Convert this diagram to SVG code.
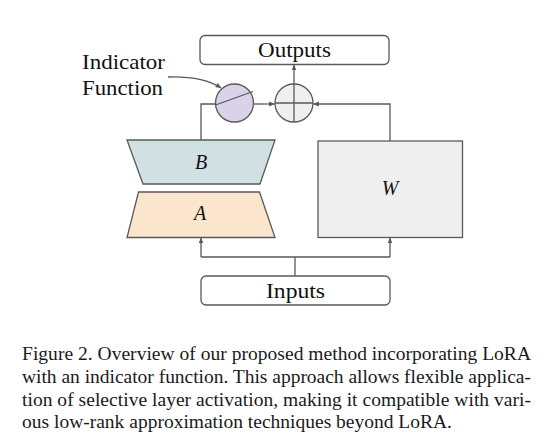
<svg xmlns="http://www.w3.org/2000/svg" width="545" height="444" viewBox="0 0 545 444">
<style>
.ln{stroke:#595959;stroke-width:1.3;fill:none}
.bx{stroke:#595959;stroke-width:1.3}
text{font-family:"Liberation Serif","Times New Roman",serif;fill:#111}
.lbl{font-size:21px}
.it{font-style:italic;font-size:20px}
.cap{font-size:19.5px;fill:#1a1a1a}
</style>
<defs>
<marker id="ah" viewBox="0 0 10 10" refX="9" refY="5" markerWidth="6" markerHeight="6" orient="auto" markerUnits="userSpaceOnUse">
<path d="M0,1 L10,5 L0,9 Z" fill="#595959"/>
</marker>
</defs>
<rect width="545" height="444" fill="#fff"/>
<g id="connectors">
<path class="ln" d="M295,276 V257"/>
<path class="ln" d="M201,257 H390"/>
<path class="ln" d="M201,257 V238" marker-end="url(#ah)"/>
<path class="ln" d="M390,257 V238" marker-end="url(#ah)"/>
<path class="ln" d="M201,140 V104 H215.5"/>
<path class="ln" d="M253.5,104 H274.5" marker-end="url(#ah)"/>
<path class="ln" d="M390,141 V104 H313.5" marker-end="url(#ah)"/>
<path class="ln" d="M294,84 V65" marker-end="url(#ah)"/>
<path class="ln" d="M168,77 Q203,76 221,88" marker-end="url(#ah)"/>
</g>
<g id="outputs">
<rect class="bx" x="200" y="35.5" width="189" height="29" rx="5" fill="#fff"/>
<text class="lbl" x="258" y="57" textLength="73" lengthAdjust="spacingAndGlyphs">Outputs</text>
</g>
<g id="inputs">
<rect class="bx" x="201" y="276" width="189" height="29" rx="5" fill="#fff"/>
<text class="lbl" x="266" y="298" textLength="59" lengthAdjust="spacingAndGlyphs">Inputs</text>
</g>
<g id="indicator-label">
<text class="lbl" x="82" y="69" textLength="83" lengthAdjust="spacingAndGlyphs">Indicator</text>
<text class="lbl" x="82" y="95" textLength="81" lengthAdjust="spacingAndGlyphs">Function</text>
</g>
<g id="indicator">
<circle class="bx" cx="234.5" cy="103" r="19" fill="#d9d2e9"/>
<path class="ln" d="M215.5,105 L253,91.5"/>
</g>
<g id="plus">
<circle class="bx" cx="294" cy="103" r="19" fill="#efefef"/>
<path class="ln" d="M294,84 V122 M275,103 H313"/>
</g>
<g id="B">
<path class="bx" d="M127,140 H275 L260,184 H143 Z" fill="#d0e0e3"/>
<text class="it" x="201" y="169" text-anchor="middle">B</text>
</g>
<g id="A">
<path class="bx" d="M138.5,192 H259.5 L275,237.5 H127 Z" fill="#fce5cd"/>
<text class="it" x="200" y="220" text-anchor="middle">A</text>
</g>
<g id="W">
<rect class="bx" x="318" y="141" width="144.5" height="96.5" fill="#efefef"/>
<text class="it" x="390" y="195" text-anchor="middle">W</text>
</g>
<g id="caption">
<text class="cap" x="22" y="360" textLength="509" lengthAdjust="spacing">Figure 2. Overview of our proposed method incorporating LoRA</text>
<text class="cap" x="22" y="383" textLength="509" lengthAdjust="spacing">with an indicator function. This approach allows flexible applica-</text>
<text class="cap" x="22" y="405.5" textLength="509" lengthAdjust="spacing">tion of selective layer activation, making it compatible with vari-</text>
<text class="cap" x="22" y="428">ous low-rank approximation techniques beyond LoRA.</text>
</g>
</svg>
